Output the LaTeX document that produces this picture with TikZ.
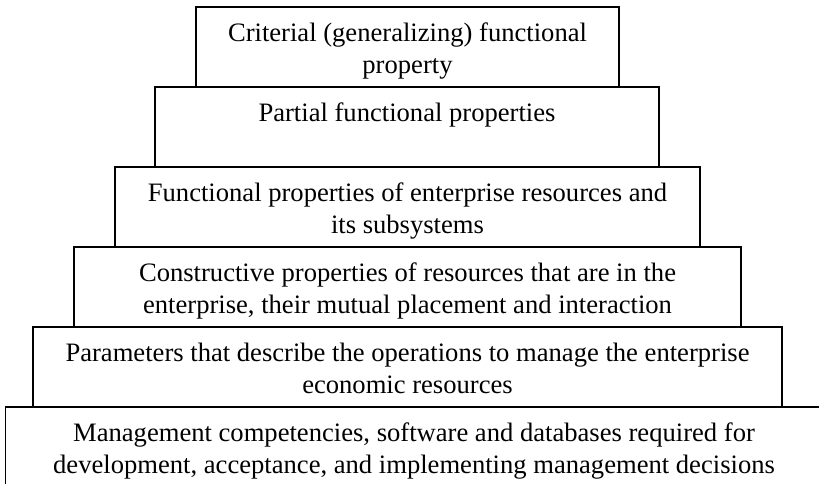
\documentclass[tikz,border=0pt]{standalone}
\usepackage{fontspec}
\setmainfont{Liberation Serif}
\begin{document}
\begin{tikzpicture}[x=1pt,y=-1pt,
  tier/.style={draw=black, line width=1.3pt, fill=white, inner sep=0pt, minimum height=80pt},
  txt/.style={anchor=north, align=center, inner sep=0pt, font=\fontsize{26.6}{31.5}\selectfont}]
\useasboundingbox (0,0) rectangle (819,484);
\begin{scope}
\clip (0,0) rectangle (819,484);
\node[tier, minimum width=831pt] (b6) at (421,447) {};
\node[tier, minimum width=749pt] (b5) at (407.5,367) {};
\node[tier, minimum width=667pt] (b4) at (407.5,287) {};
\node[tier, minimum width=585pt] (b3) at (407.5,207) {};
\node[tier, minimum width=504pt] (b2) at (407,127) {};
\node[tier, minimum width=423pt] (b1) at (407.5,47) {};
\end{scope}
\node[txt] (t1) at ([yshift=-16.5pt]b1.north) {Criterial (generalizing) functional\\property};
\node[txt] (t2) at ([yshift=-16.5pt]b2.north) {Partial functional properties};
\node[txt] (t3) at ([yshift=-16.5pt]b3.north) {Functional properties of enterprise resources and\\its subsystems};
\node[txt] (t4) at ([yshift=-16.5pt]b4.north) {Constructive properties of resources that are in the\\enterprise, their mutual placement and interaction};
\node[txt] (t5) at ([yshift=-16.5pt]b5.north) {Parameters that describe the operations to manage the enterprise\\economic resources};
\node[txt] (t6) at ([xshift=-7pt,yshift=-16.5pt]b6.north) {Management competencies, software and databases required for\\development, acceptance, and implementing management decisions};
\end{tikzpicture}
\end{document}
